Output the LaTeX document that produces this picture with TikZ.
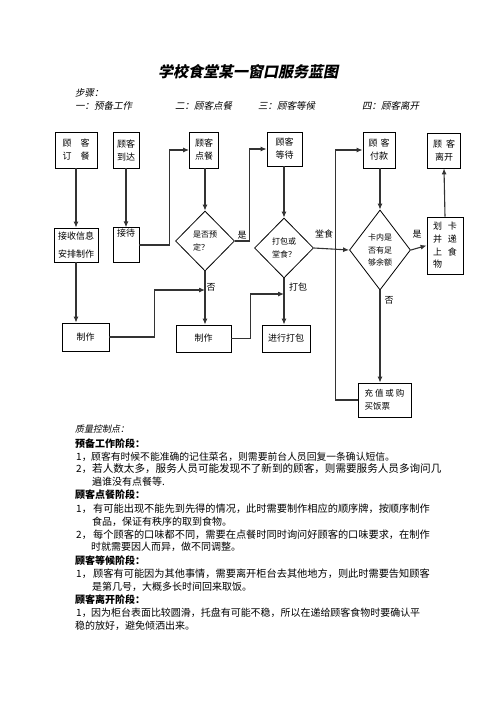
\documentclass[tikz,border=0pt]{standalone}
\usepackage{fontspec}
\setmainfont{Liberation Serif}
\newfontfamily\cjk{Noto Sans CJK SC}
\newfontfamily\cjksl{Noto Sans CJK SC}[FakeSlant=0.2]
\usetikzlibrary{arrows.meta,shapes.geometric}
\begin{document}
\begin{tikzpicture}[x=1pt,y=-1pt,
 box/.style={draw=black,line width=0.8pt,inner sep=1pt,align=center,font=\cjk\fontsize{9}{13}\selectfont},
 dia/.style={draw=black,line width=0.8pt,diamond,inner sep=0pt,align=left,font=\cjk\fontsize{8}{12.5}\selectfont},
 arr/.style={draw=black!80,line width=1.1pt,-{Latex[length=6pt,width=5pt]}},
 lbl/.style={font=\cjk\fontsize{9}{11}\selectfont,inner sep=0pt},
 txt/.style={anchor=west,inner sep=0pt,font=\cjk\fontsize{10}{12}\selectfont},
 hd/.style={anchor=west,inner sep=0pt,font=\cjk\bfseries\fontsize{10}{12}\selectfont},
 top/.style={anchor=west,inner sep=0pt,font=\cjksl\fontsize{9.5}{12}\selectfont}
]
\fill[white] (0,0) rectangle (496,702);
\path[use as bounding box] (0,0) rectangle (496,702);

% title and steps
\node[inner sep=0pt,font=\cjksl\bfseries\fontsize{15}{15}\selectfont] (title) at (248,72) {学校食堂某一窗口服务蓝图};
\node[top] (steps) at (75,93) {步骤：};
\node[top] (s1) at (75,106) {一：预备工作};
\node[top] (s2) at (175,106) {二：顾客点餐};
\node[top] (s3) at (258,106) {三：顾客等候};
\node[top] (s4) at (362,106) {四：顾客离开};

% top row
\node[box,minimum width=42,minimum height=36] (dingcan) at (76,150) {顾\hspace{9pt}客\\订\hspace{9pt}餐};
\node[box,minimum width=26,minimum height=36] (daoda) at (126,150) {顾客\\到达};
\node[box,minimum width=29,minimum height=36] (diancan) at (204,150) {顾客\\点餐};
\node[box,minimum width=35,minimum height=34] (dengdai) at (284.5,149) {顾客\\等待};
\node[box,minimum width=32,minimum height=36] (fukuan) at (379,150) {顾\hspace{3pt}客\\付款};
\node[box,minimum width=33,minimum height=35] (likai) at (444,150.5) {顾\hspace{4pt}客\\离开};

% middle row
\node[box,minimum width=44,minimum height=34,font=\cjk\fontsize{9}{18}\selectfont] (jieshou) at (76,245) {接收信息\\安排制作};
\node[box,minimum width=26,minimum height=34,align=center] (jiedai) at (126,245) {接待\\[12pt]\mbox{}};
\node[dia,minimum width=59,minimum height=60] (d1) at (205,241) {是否预\\定？};
\node[dia,minimum width=59,minimum height=60] (d2) at (284,248) {打包或\\堂食？};
\node[dia,minimum width=61,minimum height=80] (d3) at (380,250) {卡内是\\否有足\\够余额};
\node[box,minimum width=36,minimum height=57,align=left,font=\cjk\fontsize{9}{12.7}\selectfont] (huaka) at (445,245.5) {划\hspace{6pt}卡\\并\hspace{6pt}递\\上\hspace{6pt}食\\物};

% bottom row
\node[box,minimum width=47,minimum height=28] (zhizuo1) at (85.5,337) {制作};
\node[box,minimum width=55,minimum height=27] (zhizuo2) at (203.5,338.5) {制作};
\node[box,minimum width=48,minimum height=27] (dabao) at (286,338.5) {进行打包};
\node[box,minimum width=53,minimum height=34,align=left,font=\cjk\fontsize{8.5}{13}\selectfont] (chongzhi) at (384.5,400) {充\hspace{2pt}值\hspace{2pt}或\hspace{2pt}购\\买饭票};

% connectors
\draw[arr] (dingcan.south -| jieshou.south) -- (jieshou.north);
\draw[arr] (daoda.south) -- (jiedai.north);
\draw[arr] (jiedai.east) -- ++(30,0) |- (diancan.west);
\draw[arr] (diancan.south -| d1.north) -- (d1.north);
\draw[arr] (d1.east) -- ++(15,0) |- (dengdai.west);
\draw[arr] (dengdai.south -| d2.north) -- (d2.north);
\draw[arr] (d2.east) -- (d3.west);
\draw[arr] (fukuan.south -| d3.north) -- (d3.north);
\draw[arr] (d3.east) -- (huaka.west);
\draw[arr] (huaka.north) -- (likai.south);
\draw[arr] (jieshou.south) -- (jieshou.south |- zhizuo1.north);
\draw[arr] (d1.south) -- (d1.south |- zhizuo2.north);
\draw[arr] (d2.south) -- (d2.south |- dabao.north);
\draw[arr] (d3.south) -- (d3.south |- chongzhi.north);
\coordinate (j1) at (d1.south |- 0,290);
\coordinate (j2) at (d2.south |- 0,294);
\draw[arr] (zhizuo1.east) -- ++(45,0) |- (j1);
\draw[arr] (zhizuo2.east) -- ++(19,0) |- (j2);
\draw[arr] (chongzhi.west) -- ++(-22,0) |- (fukuan.west);

% connector labels
\node[lbl] (yes1) at (242,235) {是};
\node[lbl] (tangshi) at (324,234) {堂食};
\node[lbl] (yes2) at (417,234) {是};
\node[lbl] (no1) at (211,287) {否};
\node[lbl] (dabaol) at (298,287) {打包};
\node[lbl] (no2) at (389,300) {否};

% quality control text
\node[top,font=\cjksl\fontsize{9}{12}\selectfont] (qc) at (75,429) {质量控制点：};
\node[hd] (h1) at (75,444) {预备工作阶段：};
\node[txt] (n11) at (76,457) {1，};
\node[txt,font=\cjk\fontsize{9.8}{12}\selectfont] (t11) at (91,457) {顾客有时候不能准确的记住菜名，则需要前台人员回复一条确认短信。};
\node[txt] (n12) at (76,469) {2，};
\node[txt,font=\cjk\fontsize{10.58}{12}\selectfont] (t12) at (92,469) {若人数太多，服务人员可能发现不了新到的顾客，则需要服务人员多询问几};
\node[txt] (t12b) at (92,482) {遍谁没有点餐等.};
\node[hd] (h2) at (75,495) {顾客点餐阶段：};
\node[txt] (n21) at (76,509) {1，};
\node[txt,font=\cjk\fontsize{10.2}{12}\selectfont] (t21) at (93,509) {有可能出现不能先到先得的情况，此时需要制作相应的顺序牌，按顺序制作};
\node[txt] (t21b) at (92,522) {食品，保证有秩序的取到食物。};
\node[txt] (n22) at (76,535) {2，};
\node[txt,font=\cjk\fontsize{10.2}{12}\selectfont] (t22) at (93,535) {每个顾客的口味都不同，需要在点餐时同时询问好顾客的口味要求，在制作};
\node[txt] (t22b) at (91,547) {时就需要因人而异，做不同调整。};
\node[hd] (h3) at (75,561) {顾客等候阶段：};
\node[txt] (n31) at (76,574) {1，};
\node[txt,font=\cjk\fontsize{10.2}{12}\selectfont] (t31) at (93,574) {顾客有可能因为其他事情，需要离开柜台去其他地方，则此时需要告知顾客};
\node[txt] (t31b) at (92,587) {是第几号，大概多长时间回来取饭。};
\node[hd] (h4) at (75,600) {顾客离开阶段：};
\node[txt] (n41) at (76,613) {1，};
\node[txt,font=\cjk\fontsize{9.97}{12}\selectfont] (t41) at (91,613) {因为柜台表面比较圆滑，托盘有可能不稳，所以在递给顾客食物时要确认平};
\node[txt] (t41b) at (75,626) {稳的放好，避免倾洒出来。};
\end{tikzpicture}
\end{document}
